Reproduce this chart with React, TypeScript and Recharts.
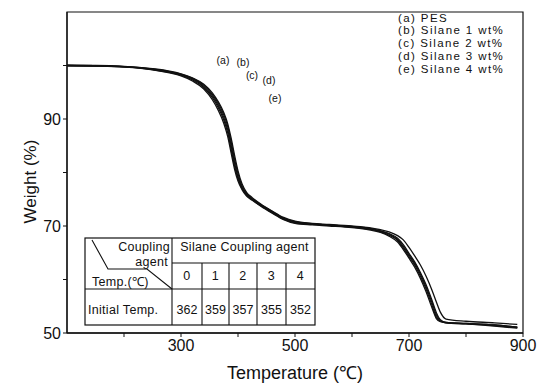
import React from 'react';
import { LineChart, Line, XAxis, YAxis, ReferenceArea, Label } from 'recharts';

// temperature grid (°C)
const temps = [100, 150, 200, 250, 280, 300, 320, 340, 355, 365, 375, 382, 388, 394, 400, 407, 415, 425, 440, 460, 480, 500, 530, 560, 600, 630, 650, 665, 680, 690, 700, 710, 720, 730, 740, 748, 755, 765, 800, 850, 890];

// weight (%) per sample
const pes = [100.0, 100.0, 99.85, 99.4, 98.95, 98.45, 97.7, 96.5, 94.9, 93.3, 91.2, 89.1, 86.4, 83.2, 80.3, 77.9, 76.3, 75.3, 74.1, 72.8, 71.6, 70.9, 70.5, 70.3, 70.0, 69.7, 69.3, 68.9, 68.2, 67.4, 66.0, 64.4, 62.7, 60.6, 58.1, 55.8, 53.9, 52.6, 52.2, 51.9, 51.6];
const silane1 = [100.0, 99.95, 99.8, 99.35, 98.85, 98.4, 97.6, 96.3, 94.6, 93.0, 90.8, 88.6, 85.7, 82.5, 79.8, 77.5, 76.1, 75.1, 74.0, 72.7, 71.5, 70.8, 70.4, 70.2, 69.9, 69.6, 69.1, 68.6, 67.7, 66.5, 64.9, 63.3, 61.3, 59.0, 56.2, 53.8, 52.5, 52.0, 51.8, 51.5, 51.1];
const silane2 = [100.0, 99.95, 99.8, 99.3, 98.8, 98.3, 97.5, 96.1, 94.3, 92.6, 90.3, 88.0, 85.0, 81.8, 79.2, 77.2, 75.9, 75.0, 73.9, 72.6, 71.4, 70.7, 70.4, 70.2, 69.9, 69.5, 69.0, 68.5, 67.5, 66.2, 64.6, 63.0, 61.0, 58.6, 55.8, 53.4, 52.3, 52.0, 51.8, 51.5, 51.1];
const silane3 = [100.0, 99.95, 99.75, 99.25, 98.7, 98.2, 97.3, 95.9, 94.0, 92.2, 89.8, 87.4, 84.3, 81.2, 78.8, 77.0, 75.8, 74.9, 73.8, 72.5, 71.3, 70.6, 70.3, 70.1, 69.8, 69.4, 68.9, 68.3, 67.3, 65.9, 64.3, 62.7, 60.6, 58.2, 55.3, 53.0, 52.2, 51.9, 51.7, 51.4, 51.0];
const silane4 = [100.0, 99.9, 99.7, 99.2, 98.6, 98.05, 97.1, 95.6, 93.6, 91.7, 89.2, 86.7, 83.6, 80.6, 78.4, 76.8, 75.6, 74.8, 73.7, 72.4, 71.2, 70.5, 70.2, 70.0, 69.7, 69.3, 68.8, 68.1, 67.0, 65.6, 64.0, 62.3, 60.2, 57.7, 54.8, 52.7, 52.1, 51.9, 51.7, 51.3, 50.9];

const seriesKeys = ['a', 'b', 'c', 'd', 'e'];
const legendNames = ['(a) PES', '(b) Silane 1 wt%', '(c) Silane 2 wt%', '(d) Silane 3 wt%', '(e) Silane 4 wt%'];
const curveTags = ['(a)', '(b)', '(c)', '(d)', '(e)'];

const xTicks = [200, 300, 400, 500, 600, 700, 800, 900];
const xLabeled = [300, 500, 700, 900];
const yTicks = [50, 60, 70, 80, 90, 100];
const yLabeled = [50, 70, 90];

// inset table
const agentLevels = ['0', '1', '2', '3', '4'];
const initialTemps = ['362', '359', '357', '355', '352'];

const data = temps.map((t, i) => ({
  t,
  a: pes[i],
  b: silane1[i],
  c: silane2[i],
  d: silane3[i],
  e: silane4[i],
}));

const font = '"Liberation Sans", Arial, sans-serif';
const tagPos = [[223, 60], [243, 62], [252, 75], [269, 80], [275, 98]];

function InsetTable() {
  const cols = [85, 172, 202, 229, 257, 286, 315];
  const rows = [238, 263, 289, 325];
  return (
    <g fontFamily={font} fontSize={12.5} fill="#111" letterSpacing={0.3}>
      <rect x={cols[0]} y={rows[0]} width={cols[6] - cols[0]} height={rows[3] - rows[0]} fill="#fff" stroke="#111" strokeWidth={1.2} />
      <line x1={cols[1]} y1={rows[0]} x2={cols[1]} y2={rows[3]} stroke="#111" strokeWidth={1.1} />
      <line x1={cols[1]} y1={rows[1]} x2={cols[6]} y2={rows[1]} stroke="#111" strokeWidth={1.1} />
      <line x1={cols[0]} y1={rows[2]} x2={cols[6]} y2={rows[2]} stroke="#111" strokeWidth={1.1} />
      {cols.slice(2, 6).map((cx) => (
        <line key={cx} x1={cx} y1={rows[1]} x2={cx} y2={rows[3]} stroke="#111" strokeWidth={1.1} />
      ))}
      <polyline points="92,240 108,269 147,269 172,289" fill="none" stroke="#111" strokeWidth={1.1} />
      <text x={170} y={247} textAnchor="end" dominantBaseline="central">Coupling</text>
      <text x={168} y={262} textAnchor="end" dominantBaseline="central">agent</text>
      <text x={92} y={282} dominantBaseline="central">Temp.(℃)</text>
      <text x={(cols[1] + cols[6]) / 2 + 1} y={247} textAnchor="middle" dominantBaseline="central">Silane Coupling agent</text>
      {agentLevels.map((lv, i) => (
        <text key={lv} x={(cols[i + 1] + cols[i + 2]) / 2} y={276} textAnchor="middle" dominantBaseline="central">{lv}</text>
      ))}
      <text x={88} y={310} dominantBaseline="central">Initial Temp.</text>
      {initialTemps.map((v, i) => (
        <text key={i} x={(cols[i + 1] + cols[i + 2]) / 2} y={310} textAnchor="middle" dominantBaseline="central" letterSpacing={0}>{v}</text>
      ))}
    </g>
  );
}

export default function App() {
  return (
    <div style={{ position: 'absolute', left: 0, top: 0, width: 543, height: 385, background: '#fff' }}>
      <LineChart width={543} height={385} data={data} margin={{ top: 12, right: 20, bottom: 0, left: 0 }}>
        <ReferenceArea x1={100} x2={900} y1={50} y2={110} fill="none" stroke="#111" strokeWidth={1.2} />
        <XAxis
          dataKey="t"
          type="number"
          domain={[100, 900]}
          ticks={xTicks}
          height={52}
          tickSize={4}
          tickLine={{ stroke: '#111' }}
          axisLine={{ stroke: '#111', strokeWidth: 1.6 }}
          tickFormatter={(v) => (xLabeled.includes(v) ? String(v) : '')}
          tick={{ fill: '#111', fontSize: 16, fontFamily: font, dy: 1 }}
        >
          <Label value="Temperature (℃)" position="insideBottom" offset={6} style={{ fill: '#111', fontSize: 18, fontFamily: font }} />
        </XAxis>
        <YAxis
          type="number"
          domain={[50, 110]}
          ticks={yTicks}
          width={67}
          tickSize={4}
          tickMargin={2}
          tickLine={{ stroke: '#111' }}
          axisLine={{ stroke: '#111', strokeWidth: 1.2 }}
          tickFormatter={(v) => (yLabeled.includes(v) ? String(v) : '')}
          tick={{ fill: '#111', fontSize: 16, fontFamily: font }}
        >
          <Label
            value="Weight (%)"
            angle={-90}
            position="insideLeft"
            offset={30}
            dy={9}
            style={{ fill: '#111', fontSize: 17, fontFamily: font, textAnchor: 'middle' }}
          />
        </YAxis>
        {seriesKeys.map((k) => (
          <Line
            key={k}
            dataKey={k}
            type="monotone"
            stroke="#111"
            strokeWidth={1.3}
            dot={false}
            isAnimationActive={false}
          />
        ))}
      </LineChart>
      <svg width={543} height={385} style={{ position: 'absolute', left: 0, top: 0, pointerEvents: 'none' }}>
        <g fontFamily={font} fontSize={11.5} fill="#111" letterSpacing={1.4}>
          {legendNames.map((n, i) => (
            <text key={n} x={398} y={17.5 + i * 12.8} dominantBaseline="central">{n}</text>
          ))}
        </g>
        <g fontFamily={font} fontSize={10.5} fill="#111">
          {curveTags.map((tag, i) => (
            <text key={tag} x={tagPos[i][0]} y={tagPos[i][1]} textAnchor="middle" dominantBaseline="central">{tag}</text>
          ))}
        </g>
        <InsetTable />
      </svg>
    </div>
  );
}
